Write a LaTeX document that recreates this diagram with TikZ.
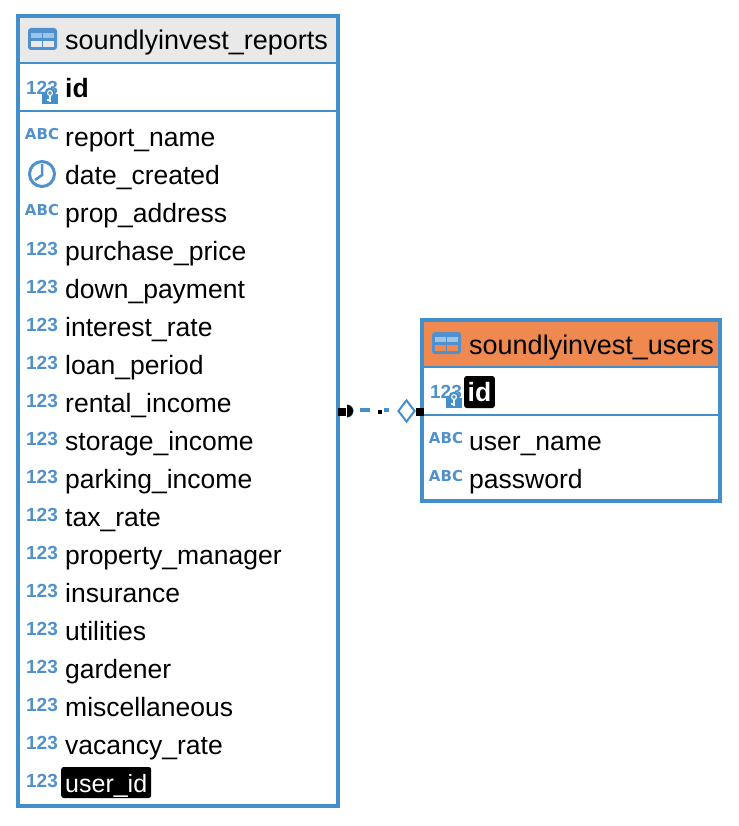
\documentclass[tikz,border=0pt]{standalone}
\usepackage{fontspec}
\setmainfont{Liberation Sans}
\newfontfamily\abcfont{DejaVu Sans}
\usetikzlibrary{positioning}
\usetikzlibrary{shapes.geometric}
\definecolor{erblue}{HTML}{428FCB}
\definecolor{iconblue}{HTML}{5090CC}
\definecolor{iconlight}{HTML}{9CC4E8}
\definecolor{headgrey}{HTML}{E9E9E9}
\definecolor{headorange}{HTML}{EF8950}
\tikzset{tablebox/.style = {draw = erblue, line width = 4pt, inner sep = 0, outer sep = 0}}
\tikzset{headbox/.style = {inner sep = 0, outer sep = 0, minimum height = 47pt}}
\tikzset{keybox/.style = {inner sep = 0, outer sep = 0, minimum height = 48pt}}
\tikzset{rule/.style = {draw = erblue, line width = 2pt}}
\tikzset{coltext/.style = {anchor = base west, inner sep = 0, font = \fontsize{26.5}{30}\selectfont}}
\tikzset{titletext/.style = {coltext, font = \fontsize{27}{30}\selectfont}}
\tikzset{picked/.style = {coltext, fill = black, text = white, rounded corners = 2.5pt, inner xsep = 4pt, text height = 25pt, text depth = 6pt}}
\tikzset{numtype/.style = {anchor = center, inner sep = 0, text = iconblue, font = \fontsize{19}{20}\selectfont\bfseries}}
\tikzset{abctype/.style = {anchor = center, inner sep = 0, text = iconblue, font = \abcfont\fontsize{15}{16}\selectfont\bfseries}}
\tikzset{endsquare/.style = {fill = black, inner sep = 0, outer sep = 0, minimum size = 8pt}}
% table glyph in a header, #3 is the header colour
\newcommand{\tableglyph}[3]{
  \fill [iconblue, rounded corners = 3pt] (#1, #2) rectangle ++(29, 22);
  \foreach \x in {3, 15} {
    \fill [iconlight] (#1 + \x, #2 + 5) rectangle ++(11, 5);
    \fill [#3] (#1 + \x, #2 + 13) rectangle ++(11, 6);
  }
}
% key badge laid over the 123
\newcommand{\keyglyph}[2]{
  \fill [erblue] (#1, #2) rectangle ++(16, 10);
  \fill [erblue] (#1 + 8, #2 - 1) circle (5.5);
  \draw [white, line width = 1.2pt] (#1 + 8, #2 - 1) circle (2.4);
  \draw [white, line width = 1.2pt] (#1 + 8, #2 + 1.4) -- ++(0, 7) (#1 + 8, #2 + 6) -- ++(-3, 0);
}
\begin{document}
\begin{tikzpicture}[x = 1pt, y = -1pt]
  \useasboundingbox (0, 0) rectangle (738, 826);
  % left table
  \node (reports) [tablebox, minimum width = 320pt, minimum height = 790pt] at (178, 411) {};
  \node (reportshead) [headbox, fill = headgrey, minimum width = 320pt, below = 0pt of reports.north] {};
  \node (reportskey) [keybox, minimum width = 320pt, below = 0pt of reportshead] {};
  \draw [tablebox, fill = none] (reports.south west) rectangle (reports.north east);
  \draw [rule] (reportshead.south west) -- (reportshead.south east);
  \draw [rule] (reportskey.south west) -- (reportskey.south east);
  \tableglyph{28}{28}{headgrey}
  \node (reportstitle) [titletext] at (65, 50) {soundlyinvest\_reports};
  \node (reportsidtype) [numtype] at (42, 88) {123};
  \keyglyph{42}{94}
  \node (reportsid) [coltext, font = \fontsize{26.5}{30}\selectfont\bfseries] at (65, 98) {id};
  \foreach \col [count = \i from 0] in {report\_name, date\_created, prop\_address, purchase\_price,
      down\_payment, interest\_rate, loan\_period, rental\_income, storage\_income, parking\_income,
      tax\_rate, property\_manager, insurance, utilities, gardener, miscellaneous, vacancy\_rate} {
    \node (reportsrow\i) [coltext] at (65, 146.5 + 38 * \i) {\col};
  }
  \node (reportsuser) [picked, font = \fontsize{25}{30}\selectfont] at (61, 792) {user\_id};
  \foreach \i in {0, 2} {
    \node (reportsabc\i) [abctype] at (42, 134 + 38 * \i) {ABC};
  }
  \foreach \i in {3, ..., 17} {
    \node (reportsnum\i) [numtype] at (42, 135 + 38 * \i) {123};
  }
  % clock of date_created
  \draw [iconblue, line width = 3pt] (42, 174) circle (12.5);
  \draw [iconblue, line width = 2.5pt] (42, 164) -- (42, 175) -- (35, 180);
  % right table
  \node (users) [tablebox, minimum width = 298pt, minimum height = 181pt] at (571, 410.5) {};
  \node (usershead) [headbox, fill = headorange, minimum width = 298pt, below = 0pt of users.north] {};
  \node (userskey) [keybox, minimum width = 298pt, below = 0pt of usershead] {};
  \draw [tablebox, fill = none] (users.south west) rectangle (users.north east);
  \draw [rule] (usershead.south west) -- (usershead.south east);
  \draw [rule] (userskey.south west) -- (userskey.south east);
  \tableglyph{432}{332}{headorange}
  \node (userstitle) [titletext] at (469, 354) {soundlyinvest\_users};
  \node (usersidtype) [numtype] at (446, 392) {123};
  \keyglyph{446}{398}
  \node (usersid) [picked, font = \fontsize{26.5}{30}\selectfont\bfseries, inner xsep = 3.5pt, text height = 25pt, text depth = 7pt] at (464, 401) {id};
  \foreach \col/\y in {user\_name/450.5, password/488.5} {
    \node (users\y) [coltext] at (469, \y) {\col};
  }
  \foreach \y in {438, 476} {
    \node (usersabc\y) [abctype] at (446, \y) {ABC};
  }
  % link between the tables
  \coordinate (fkleft) at (reports.east |- 0, 412);
  \coordinate (fkright) at (users.west |- 0, 412);
  \coordinate (fkdot) at (348, 410);
  \node (diamondend) [draw = erblue, fill = white, diamond, line width = 2pt, inner sep = 0, minimum width = 17pt, minimum height = 22pt, left = 6pt of fkright, yshift = 1pt] {};
  \draw [erblue, line width = 3.5pt, dash pattern = on 10pt off 14pt, dash phase = 12pt, shorten > = 8pt] (fkdot) -- (fkdot -| diamondend.west);
  \draw [erblue, line width = 1.2pt] (fkleft) ++(9, -7) arc (-90 : 90 : 6);
  \fill [black] (fkleft) ++(9, -7) arc (-90 : 90 : 6) -- cycle;
  \node (leftend) [endsquare, xshift = 4pt] at (fkleft) {};
  \node (rightend) [endsquare, xshift = -2pt] at (fkright) {};
  \node (midmark) [endsquare, minimum size = 4pt] at (380, 412) {};
\end{tikzpicture}
\end{document}
